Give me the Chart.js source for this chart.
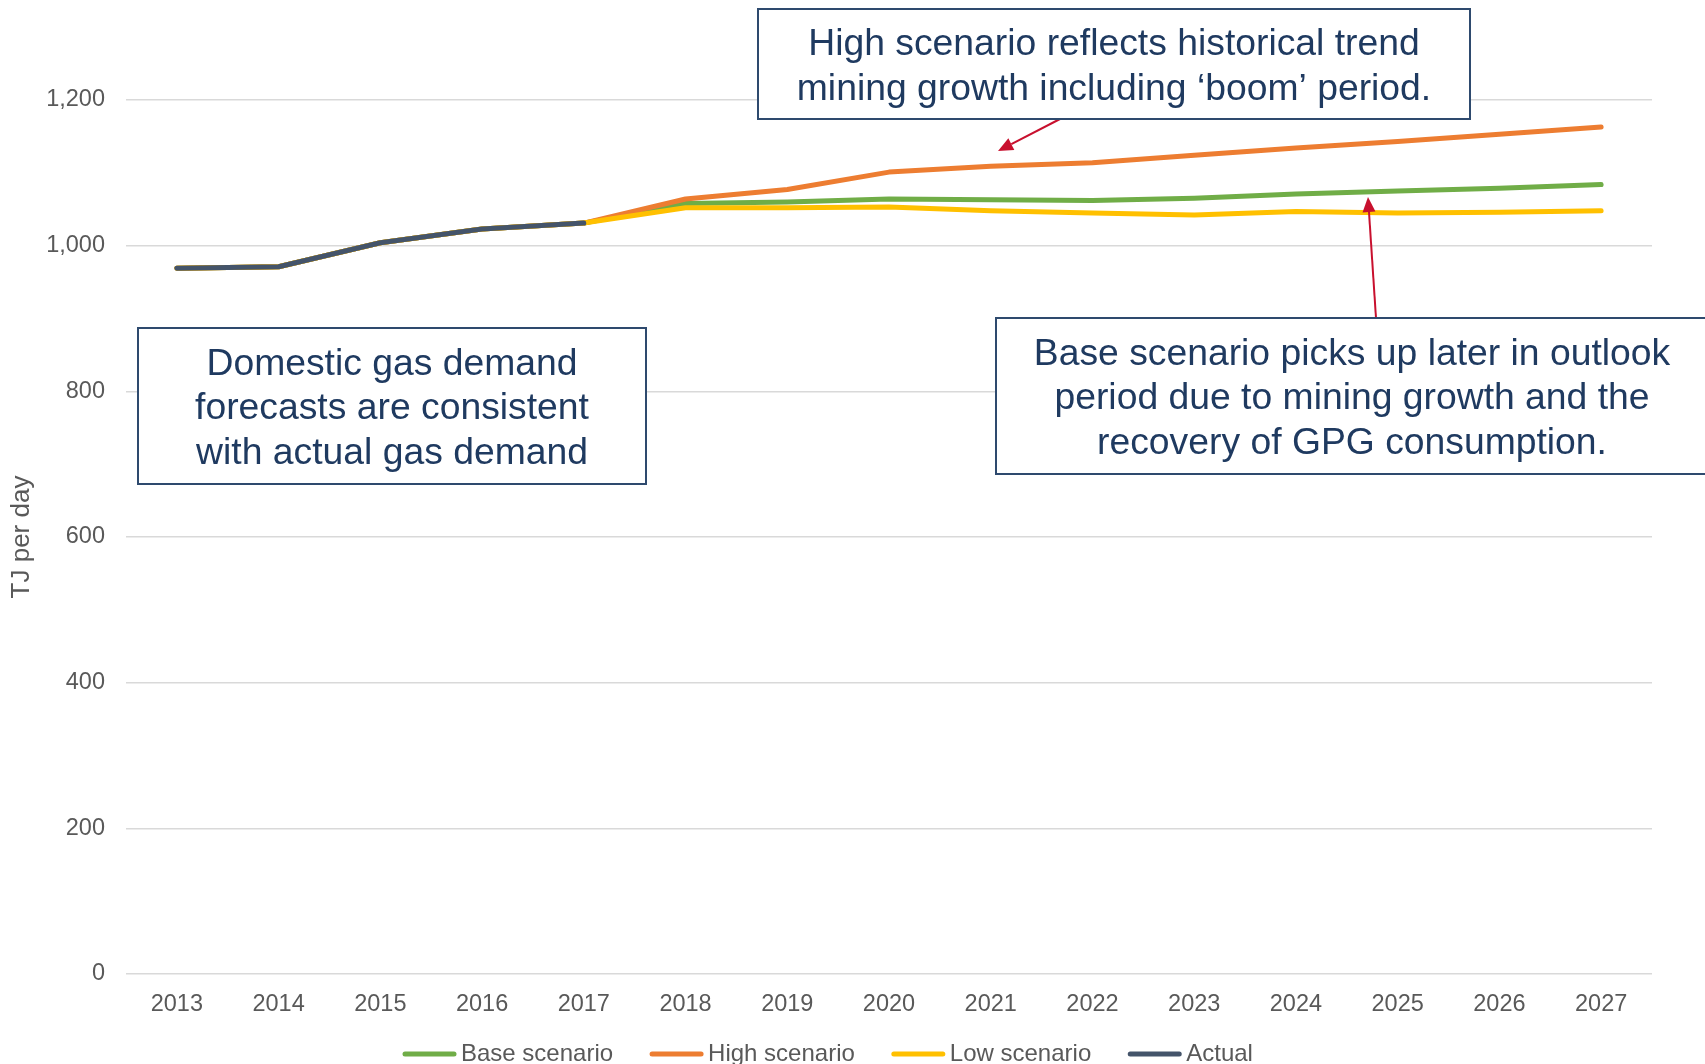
<!DOCTYPE html>
<html><head><meta charset="utf-8">
<script src="https://cdn.jsdelivr.net/npm/chart.js@4/dist/chart.umd.min.js"></script>
<style>html,body{margin:0;padding:0;background:#fff;overflow:hidden;} #wrap{width:1705px;height:1064px;position:relative;}</style>
</head><body><div id="wrap"><canvas id="c" width="1705" height="1064"></canvas></div>
<script>
const years = ['2013','2014','2015','2016','2017','2018','2019','2020','2021','2022','2023','2024','2025','2026','2027'];
const baseScenario = [969,971,1004,1023,1031,1058,1060,1064,1063,1062,1065,1071,1075,1079,1084];
const highScenario = [969,971,1004,1023,1031,1064,1077,1101,1109,1114,1124,1134,1143,1153,1163];
const lowScenario  = [969,971,1004,1023,1031,1052,1052,1053,1048,1045,1042,1047,1045,1046,1048];
const actual       = [969,971,1004,1023,1031,null,null,null,null,null,null,null,null,null,null];
const seriesNames = ['Base scenario','High scenario','Low scenario','Actual'];
const seriesColors = ['#70AD47','#ED7D31','#FFC000','#44546A'];
const yTickValues = [0,200,400,600,800,1000,1200];
const yTitle = 'TJ per day';
const notes = [
  {box:[758,9,712,110], lines:['High scenario reflects historical trend','mining growth including \u2018boom\u2019 period.']},
  {box:[138,328,508,156], lines:['Domestic gas demand','forecasts are consistent','with actual gas demand']},
  {box:[996,318,712,156], lines:['Base scenario picks up later in outlook','period due to mining growth and the','recovery of GPG consumption.']}
];
const arrows = [[1060,119,998,151],[1376,318,1368,197]];

const FONT = '"Liberation Sans", Arial, sans-serif';
const seriesData = [baseScenario, highScenario, lowScenario, actual];
const datasets = seriesData.map((d,i)=>({
  label: seriesNames[i], data: d, borderColor: seriesColors[i], backgroundColor: seriesColors[i],
  borderWidth: 5, pointRadius: 0, pointHoverRadius: 0, tension: 0, fill: false,
  borderCapStyle: 'round', borderJoinStyle: 'round', spanGaps: false, order: 4 - i
}));

const notesPlugin = {
  id: 'notes',
  afterDatasetsDraw(chart) {
    const ctx = chart.ctx;
    ctx.save();
    ctx.strokeStyle = '#C8102E'; ctx.fillStyle = '#C8102E'; ctx.lineWidth = 2;
    arrows.forEach(a => {
      const [x1,y1,x2,y2] = a;
      const ang = Math.atan2(y2-y1, x2-x1);
      const L = 15, W = 6.5;
      const bx = x2 - L*Math.cos(ang), by = y2 - L*Math.sin(ang);
      ctx.beginPath(); ctx.moveTo(x1,y1); ctx.lineTo(bx,by); ctx.stroke();
      ctx.beginPath(); ctx.moveTo(x2,y2);
      ctx.lineTo(bx + W*Math.sin(ang), by - W*Math.cos(ang));
      ctx.lineTo(bx - W*Math.sin(ang), by + W*Math.cos(ang));
      ctx.closePath(); ctx.fill();
    });
    notes.forEach(n => {
      const [x,y,w,h] = n.box;
      ctx.fillStyle = '#FFFFFF'; ctx.fillRect(x,y,w,h);
      ctx.strokeStyle = '#2E4A6E'; ctx.lineWidth = 2; ctx.strokeRect(x,y,w,h);
      ctx.fillStyle = '#1F3A60';
      ctx.font = '37.3px ' + FONT; ctx.textAlign = 'center'; ctx.textBaseline = 'middle';
      const lh = 44.6, cx = x + w/2, cy = y + h/2;
      const y0 = cy - lh*(n.lines.length-1)/2;
      n.lines.forEach((t,k) => ctx.fillText(t, cx, y0 + k*lh + 3));
    });
    ctx.restore();
  },
  afterDraw(chart) {
    const ctx = chart.ctx;
    ctx.save();
    ctx.font = '24px ' + FONT; ctx.textBaseline = 'middle'; ctx.textAlign = 'left';
    let x = 402; const y = 1054;
    chart.data.datasets.forEach(ds => {
      ctx.strokeStyle = ds.borderColor; ctx.lineWidth = 5; ctx.lineCap = 'round';
      ctx.beginPath(); ctx.moveTo(x+3, y); ctx.lineTo(x+52, y); ctx.stroke();
      ctx.fillStyle = '#595959';
      ctx.fillText(ds.label, x + 59, y);
      x += 59 + ctx.measureText(ds.label).width + 36;
    });
    ctx.restore();
  }
};

new Chart(document.getElementById('c'), {
  type: 'line',
  data: { labels: years, datasets },
  options: {
    responsive: false, animation: false, devicePixelRatio: 1,
    layout: { padding: { top: 100, right: 53, bottom: 0, left: 0 } },
    plugins: { legend: { display: false }, tooltip: { enabled: false } },
    scales: {
      x: {
        offset: true,
        grid: { display: false, drawTicks: false },
        border: { display: false },
        ticks: { color: '#595959', font: { family: FONT, size: 23.5 }, padding: 16, maxRotation: 0 },
        afterFit(s) { s.height = 90; }
      },
      y: {
        min: 0, max: 1200,
        afterBuildTicks(s) { s.ticks = yTickValues.map(v => ({ value: v })); },
        grid: { color: '#D9D9D9', lineWidth: 1.5, drawTicks: false },
        border: { display: false },
        ticks: { color: '#595959', font: { family: FONT, size: 23.5 }, padding: 21,
                 callback: v => v.toLocaleString('en-US') },
        title: { display: true, text: yTitle, color: '#595959', font: { family: FONT, size: 26 }, padding: { top: 6, bottom: 0 } },
        afterFit(s) { s.width = 126; }
      }
    }
  },
  plugins: [notesPlugin]
});
</script></body></html>
